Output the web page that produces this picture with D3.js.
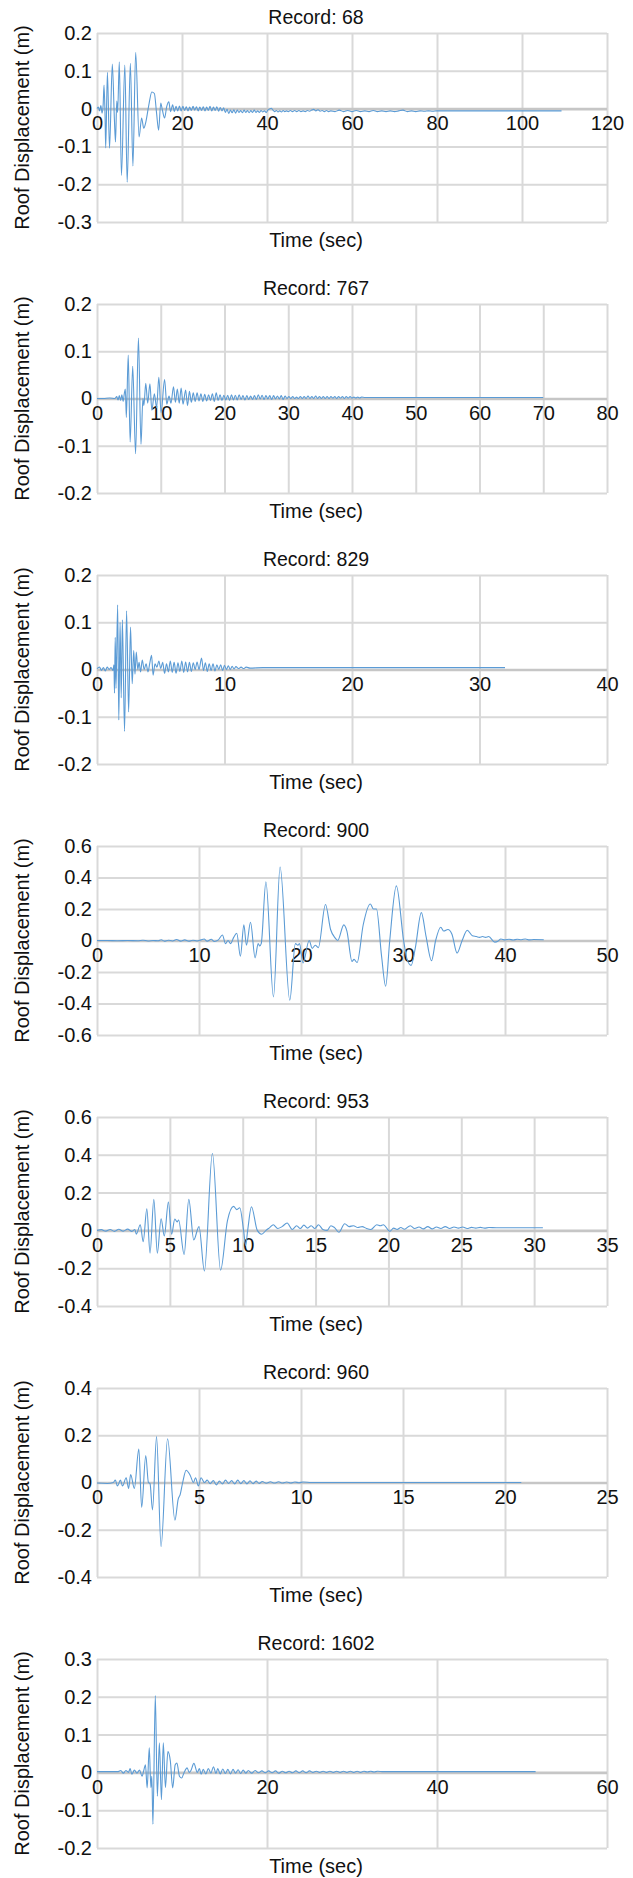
<!DOCTYPE html>
<html>
<head>
<meta charset="utf-8">
<script src="https://cdn.jsdelivr.net/npm/d3@7"></script>
<style>
  html, body { margin: 0; padding: 0; background: #ffffff; }
  svg text { font-family: "Liberation Sans", Arial, Helvetica, sans-serif; fill: #111111; }
</style>
</head>
<body>
<svg id="chart" width="633" height="1878"></svg>
<script>
// Roof displacement time histories, [time (s), displacement (m)]
const rec68 = [
  [0,0],[0.3,0.004],[0.6,-0.006],[0.9,0.008],[1.2,-0.012],[1.45,0.01],[1.65,0.062],[1.9,-0.02],[2.05,-0.104],
  [2.45,0.096],[2.95,-0.105],[3.6,0.118],[4.1,-0.03],[4.35,-0.088],[4.65,0.02],[4.85,-0.01],[5.25,0.124],
  [5.75,-0.177],[6.55,0.115],[7.1,-0.195],[7.85,0.12],[8.45,-0.152],[9.1,0.149],[9.9,-0.075],[10.5,-0.025],
  [11.0,-0.052],[11.5,-0.035],[12.2,0.01],[12.9,0.044],[13.5,0.04],[14.0,-0.01],[14.5,-0.057],[15.0,0.015],
  [15.4,-0.005],[15.9,-0.025],[16.4,0.005],[16.9,0.018],[17.3,-0.008],[17.8,0.01],[18.2,-0.008],[18.6,0.006],
  [19.0,-0.006],[19.4,0.007],[19.8,-0.006],[20.2,0.006],[20.6,-0.005],[21.0,0.005],[21.4,-0.006],[21.8,0.004],
  [22.2,-0.005],[22.6,0.006],[23.0,-0.004],[23.4,0.005],[23.8,-0.006],[24.2,0.004],[24.6,-0.005],[25.0,0.005],
  [25.4,-0.006],[25.8,0.004],[26.2,-0.005],[26.6,0.006],[27.0,-0.006],[27.4,0.004],[27.8,-0.005],[28.2,0.005],
  [28.6,-0.007],[29.0,0.003],[29.4,-0.006],[29.8,0.002],[30.2,-0.01],[30.6,-0.002],[31.0,-0.013],[31.4,-0.004],
  [31.8,-0.011],[32.2,-0.003],[32.6,-0.012],[33.0,-0.004],[33.4,-0.01],[33.8,-0.005],[34.2,-0.011],[34.6,-0.004],
  [35.0,-0.01],[35.4,-0.005],[35.8,-0.011],[36.2,-0.005],[36.6,-0.01],[37.0,-0.004],[37.4,-0.01],[37.8,-0.006],
  [38.2,-0.01],[38.6,-0.005],[39.0,-0.009],[39.4,-0.006],[39.8,-0.01],[40.2,-0.004],[40.6,-0.001],[41.0,0.001],
  [41.4,-0.004],[41.8,-0.008],[42.2,-0.005],[42.6,-0.009],[43.0,-0.006],[43.4,-0.009],[43.8,-0.005],[44.2,-0.008],
  [44.6,-0.006],[45.0,-0.008],[45.5,-0.005],[46.0,-0.008],[46.5,-0.005],[47.0,-0.008],[47.5,-0.005],[48.0,-0.008],
  [48.5,-0.006],[49.0,-0.008],[49.5,-0.005],[50.0,-0.007],[50.5,-0.004],[51.0,-0.002],[51.5,-0.006],[52.0,-0.003],
  [52.5,-0.007],[53.0,-0.005],[53.5,-0.008],[54.0,-0.005],[54.5,-0.008],[55.0,-0.006],[56,-0.008],[57,-0.004],
  [58,-0.008],[59,-0.005],[60,-0.008],[61,-0.005],[62,-0.008],[63,-0.006],[64,-0.008],[65,-0.005],[66,-0.008],
  [67,-0.006],[68,-0.008],[69,-0.006],[70,-0.008],[71,-0.006],[72,-0.004],[73,-0.008],[74,-0.006],[75,-0.008],
  [76,-0.006],[77,-0.007],[78,-0.006],[79,-0.007],[80,-0.006],[109.3,-0.006]
];

const rec767 = [
  [0,0],[1,0],[2,0.001],[2.8,0],[3.1,0.004],[3.3,-0.003],[3.5,0.006],[3.7,-0.004],[3.9,0.008],[4.1,-0.006],
  [4.3,0.012],[4.45,0.02],[4.6,-0.04],[4.9,0.092],[5.2,-0.092],[5.6,0.068],[6.05,-0.117],[6.5,0.128],[6.9,-0.097],
  [7.2,0],[7.35,-0.015],[7.65,0.032],[7.95,-0.01],[8.3,0.031],[8.6,-0.025],[9.0,0.01],[9.35,-0.02],[9.7,0.045],
  [10.05,-0.03],[10.6,0.04],[10.95,-0.012],[11.3,0.005],[11.6,-0.01],[12.0,0.025],[12.3,-0.008],[12.6,0.02],
  [12.9,-0.01],[13.2,0.022],[13.5,-0.012],[13.9,0.018],[14.2,-0.015],[14.5,0.015],[14.8,-0.008],[15.1,0.012],
  [15.4,-0.006],[15.7,0.012],[16.0,-0.005],[16.3,0.01],[16.6,-0.006],[16.9,0.009],[17.2,-0.005],[17.5,0.008],
  [17.8,-0.004],[18.1,0.01],[18.4,-0.006],[18.7,0.012],[19.0,-0.004],[19.3,0.008],[19.6,-0.004],[19.9,0.007],
  [20.2,-0.003],[20.5,0.007],[20.8,-0.004],[21.1,0.008],[21.4,-0.003],[21.7,0.007],[22.0,-0.003],[22.3,0.008],
  [22.6,-0.002],[22.9,0.006],[23.2,-0.003],[23.5,0.006],[23.8,-0.002],[24.1,0.005],[24.4,-0.002],[24.7,0.006],
  [25.0,-0.002],[25.3,0.008],[25.6,-0.001],[25.9,0.007],[26.2,-0.002],[26.5,0.006],[26.8,-0.001],[27.1,0.006],
  [27.4,-0.002],[27.7,0.006],[28.0,-0.001],[28.3,0.005],[28.6,-0.001],[28.9,0.006],[29.2,-0.002],[29.5,0.005],
  [29.8,0],[30.1,0.004],[30.4,0],[30.7,0.004],[31,0],[31.3,0.003],[31.6,0],[31.9,0.004],[32.2,0],[32.5,0.004],
  [32.8,0],[33.1,0.005],[33.4,0],[33.7,0.004],[34,0],[34.3,0.005],[34.6,0],[34.9,0.004],[35.2,0],[35.5,0.004],
  [35.8,0],[36.1,0.004],[36.4,0],[36.7,0.004],[37,0.001],[37.3,0.004],[37.6,0],[37.9,0.004],[38.2,0.001],
  [38.5,0.004],[38.8,0],[39.1,0.004],[39.4,0.001],[39.7,0.004],[40,0.001],[40.3,0.003],[40.6,0.001],[40.9,0.003],
  [41.2,0.001],[41.5,0.003],[42,0.002],[43,0.002],[44,0.002],[70,0.002]
];

const rec829 = [
  [0,0.002],[0.2,0.005],[0.35,-0.002],[0.5,0.004],[0.65,-0.003],[0.8,0.005],[0.95,0],[1.1,0.004],[1.25,-0.002],
  [1.33,0.01],[1.37,-0.05],[1.43,0.068],[1.49,-0.04],[1.62,0.137],[1.71,-0.107],[1.81,0.1],[1.9,-0.06],[1.99,0.105],
  [2.16,-0.131],[2.32,0.124],[2.48,-0.09],[2.63,0.09],[2.76,-0.03],[2.88,0.04],[2.98,-0.01],[3.08,0.037],[3.2,0],
  [3.3,0.015],[3.42,-0.005],[3.55,0.02],[3.7,0],[3.85,0.012],[4.0,-0.005],[4.15,0.015],[4.28,0.03],[4.4,-0.012],
  [4.55,0.012],[4.7,0.005],[4.85,0.018],[5.0,0.002],[5.15,0.015],[5.3,-0.008],[5.45,0.012],[5.6,-0.005],[5.75,0.018],
  [5.9,-0.006],[6.05,0.015],[6.2,-0.008],[6.35,0.014],[6.5,-0.004],[6.65,0.018],[6.8,-0.006],[6.95,0.016],[7.1,-0.005],
  [7.25,0.015],[7.4,-0.004],[7.55,0.014],[7.7,0],[7.85,0.016],[8.0,0],[8.2,0.024],[8.35,-0.002],[8.5,0.014],
  [8.65,-0.004],[8.8,0.012],[8.95,-0.002],[9.1,0.012],[9.25,-0.003],[9.4,0.01],[9.55,0],[9.7,0.01],[9.85,-0.002],
  [10.0,0.009],[10.15,0],[10.3,0.008],[10.45,0],[10.6,0.007],[10.75,0.001],[10.9,0.006],[11.1,0.002],[11.3,0.005],
  [11.5,0.002],[11.7,0.005],[12,0.003],[13,0.004],[32,0.004]
];

const rec900 = [
  [0,0],[1,0],[2,-0.002],[3,0],[4,-0.002],[4.5,0.002],[5,-0.003],[5.5,0],[6,-0.002],[6.3,0.005],[6.6,-0.004],
  [7,0.002],[7.4,-0.003],[7.8,0.006],[8.2,-0.004],[8.6,0.004],[9,-0.004],[9.4,0.002],[9.8,-0.003],[10.2,0.004],
  [10.5,0.01],[10.8,-0.004],[11.2,0.008],[11.5,-0.006],[11.9,0.004],[12.3,0.035],[12.6,-0.02],[12.85,0],[13.1,-0.02],
  [13.4,0.02],[13.7,0.046],[14.06,-0.1],[14.4,0.099],[14.65,-0.03],[15.05,0.116],[15.5,-0.11],[15.8,-0.02],
  [15.95,-0.035],[16.1,-0.02],[16.56,0.373],[17.3,-0.358],[17.95,0.467],[18.9,-0.379],[19.45,-0.02],[19.7,-0.03],
  [19.85,-0.02],[20.2,-0.143],[20.8,0],[21.1,-0.05],[21.4,-0.03],[21.7,-0.045],[22.4,0.229],[22.9,0.07],[23.3,0.02],
  [23.6,0],[24.2,0.099],[24.5,0.06],[25.0,-0.133],[25.2,-0.12],[25.5,-0.14],[26.1,0.1],[26.8,0.232],[27.1,0.2],
  [27.4,0.2],[27.9,-0.1],[28.3,-0.29],[28.7,0],[29.35,0.347],[30.06,0],[30.4,-0.12],[30.8,-0.158],[31.2,-0.05],
  [31.8,0.177],[32.25,0.03],[32.8,-0.128],[33.2,0],[33.7,0.084],[34.0,0.06],[34.4,0.07],[34.8,0.04],[35.3,-0.08],
  [35.8,0],[36.3,0.065],[36.8,0.03],[37.2,0.025],[37.5,0.02],[37.8,0.025],[38.1,0.02],[38.4,0.025],[39.0,-0.01],
  [39.3,-0.005],[39.6,0.01],[40,0.004],[40.4,0.008],[40.8,0.003],[41.2,0.008],[41.6,0.005],[42,0.01],[42.4,0.004],
  [42.8,0.006],[43.8,0.005]
];

const rec953 = [
  [0,0],[0.3,0.004],[0.6,-0.004],[0.9,0.005],[1.2,-0.005],[1.5,0.006],[1.8,-0.004],[2.1,0.007],[2.4,-0.005],
  [2.6,0.005],[2.7,-0.02],[2.97,0.03],[3.17,-0.06],[3.42,0.114],[3.64,-0.12],[3.9,0.164],[4.14,-0.12],[4.4,0.062],
  [4.62,-0.03],[4.9,0.15],[5.12,-0.02],[5.34,0.06],[5.5,0.045],[5.6,0.055],[5.98,-0.127],[6.3,0.164],[6.64,-0.05],
  [7.0,0.02],[7.37,-0.215],[7.92,0.408],[8.48,-0.211],[8.95,0.05],[9.37,0.127],[9.6,0.11],[9.8,0.12],[10.06,0],
  [10.2,-0.08],[10.34,0],[10.6,0.125],[11.0,0],[11.3,-0.02],[11.6,0],[11.85,0.015],[12.1,0.03],[12.4,0.01],
  [12.7,0.02],[13.05,0.039],[13.4,0.005],[13.7,0.025],[13.95,0.01],[14.2,0.028],[14.45,0.012],[14.7,0.025],
  [14.95,0.01],[15.2,0.03],[15.5,0.005],[15.8,0],[16.05,0.025],[16.3,0.015],[16.6,-0.01],[17.0,0.035],[17.3,0.02],
  [17.6,0.025],[17.9,0.015],[18.2,0.02],[18.5,0.01],[18.8,0.005],[19.2,0.03],[19.45,0.025],[19.65,0.03],
  [20.1,-0.005],[20.35,0.012],[20.6,0.005],[20.85,0.015],[21.1,0.006],[21.5,0.025],[21.8,0.01],[22.1,0.018],
  [22.4,0.008],[22.7,0.02],[23.0,0.008],[23.3,0.018],[23.6,0.01],[23.9,0.02],[24.2,0.01],[24.5,0.018],[24.8,0.012],
  [25.1,0.018],[25.4,0.01],[25.7,0.016],[26.0,0.012],[26.3,0.016],[26.6,0.012],[26.9,0.015],[27.4,0.014],[30.6,0.014]
];

const rec960 = [
  [0,-0.002],[0.5,-0.004],[0.8,0],[0.9,0.01],[1.0,-0.015],[1.15,0.01],[1.25,-0.015],[1.43,0.02],[1.55,-0.025],
  [1.65,0.034],[1.83,-0.025],[2.05,0.142],[2.19,-0.105],[2.39,0.114],[2.52,0],[2.6,-0.005],[2.72,-0.116],[2.92,0.194],
  [3.14,-0.271],[3.46,0.185],[3.82,-0.16],[3.98,-0.07],[4.08,-0.05],[4.2,0],[4.37,0.052],[4.57,0.03],[4.73,0],
  [4.83,0.02],[4.97,-0.015],[5.1,0.02],[5.27,0],[5.4,0.01],[5.55,-0.005],[5.7,0.008],[5.85,-0.01],[6.0,0.006],
  [6.15,-0.006],[6.3,0.01],[6.45,-0.004],[6.6,0.008],[6.75,-0.006],[6.9,0.01],[7.05,-0.005],[7.2,0.008],[7.35,-0.006],
  [7.5,0.007],[7.65,-0.005],[7.8,0.006],[7.95,-0.004],[8.1,0.004],[8.3,-0.003],[8.5,0.003],[8.7,-0.002],[8.9,0.003],
  [9.1,-0.002],[9.3,0.002],[9.5,-0.002],[9.7,0.002],[9.9,-0.001],[10.1,0.002],[10.5,0],[20.8,0]
];

const rec1602 = [
  [0,0.002],[2.5,0.002],[2.8,0.005],[3.1,-0.002],[3.4,0.005],[3.7,0],[3.9,0.01],[4.1,-0.005],[4.4,0.006],[4.7,-0.002],
  [5.0,0.006],[5.3,-0.01],[5.5,0.005],[5.7,0.02],[5.9,-0.041],[6.15,0.065],[6.34,-0.04],[6.45,-0.01],[6.58,-0.137],
  [6.86,0.203],[7.1,-0.063],[7.34,0.078],[7.58,-0.072],[7.8,0.078],[8.05,-0.04],[8.34,0.055],[8.63,0.03],[8.9,-0.041],
  [9.2,0.02],[9.4,0.025],[9.7,-0.01],[9.96,-0.015],[10.25,0],[10.6,0.012],[10.85,0],[11.05,0.005],[11.4,0.024],
  [11.8,0],[12.05,0.01],[12.25,-0.005],[12.5,0.008],[12.8,-0.004],[13.1,0.01],[13.4,-0.002],[13.7,0.015],[14.0,-0.003],
  [14.2,0.01],[14.5,-0.004],[14.8,0.009],[15.1,-0.003],[15.4,0.008],[15.7,-0.004],[16.0,0.008],[16.3,-0.002],
  [16.6,0.007],[16.9,-0.003],[17.2,0.006],[17.5,-0.002],[17.8,0.005],[18.2,-0.002],[18.6,0.005],[19.0,-0.001],
  [19.4,0.004],[19.8,-0.001],[20.2,0.004],[20.6,-0.001],[21.0,0.004],[21.4,-0.002],[21.8,0.003],[22.2,-0.001],
  [22.6,0.003],[23.0,-0.001],[23.4,0.004],[23.8,-0.001],[24.2,0.004],[24.6,-0.001],[25.0,0.004],[25.4,0],[25.8,0.003],
  [26.2,0],[26.6,0.003],[27.0,0],[27.4,0.003],[27.8,0],[28.2,0.003],[28.6,0],[29.0,0.003],[29.4,0],[29.8,0.003],
  [30.2,0],[30.6,0.003],[31.0,0],[31.4,0.003],[31.8,0.001],[32.2,0.003],[32.6,0.001],[33.0,0.003],[33.7,0.002],[51.6,0.002]
];

// Record numbers, their series and axis ticks
const recordIds = ["68", "767", "829", "900", "953", "960", "1602"];
const recordSeries = [rec68, rec767, rec829, rec900, rec953, rec960, rec1602];
const xTickValues = [
  [0, 20, 40, 60, 80, 100, 120],
  [0, 10, 20, 30, 40, 50, 60, 70, 80],
  [0, 10, 20, 30, 40],
  [0, 10, 20, 30, 40, 50],
  [0, 5, 10, 15, 20, 25, 30, 35],
  [0, 5, 10, 15, 20, 25],
  [0, 20, 40, 60]
];
const yTickValues = [
  [0.2, 0.1, 0, -0.1, -0.2, -0.3],
  [0.2, 0.1, 0, -0.1, -0.2],
  [0.2, 0.1, 0, -0.1, -0.2],
  [0.6, 0.4, 0.2, 0, -0.2, -0.4, -0.6],
  [0.6, 0.4, 0.2, 0, -0.2, -0.4],
  [0.4, 0.2, 0, -0.2, -0.4],
  [0.3, 0.2, 0.1, 0, -0.1, -0.2]
];

// Layout
const plotLeft = 97, plotRight = 607, firstTop = 33, panelPitch = 271, plotHeight = 189;
const centerX = 316;
const tickFont = 20, labelFont = 20, titleFont = 19.5;
const fmt = d => String(+d.toFixed(3));

const svg = d3.select("#chart");

recordIds.forEach((id, i) => {
  const top = firstTop + i * panelPitch;
  const bottom = top + plotHeight;
  const x = d3.scaleLinear().domain(d3.extent(xTickValues[i])).range([plotLeft, plotRight]);
  const y = d3.scaleLinear().domain(d3.extent(yTickValues[i])).range([bottom, top]);
  const g = svg.append("g").attr("class", "panel");

  // vertical gridlines
  g.append("g").attr("transform", `translate(0,${bottom})`)
    .call(d3.axisBottom(x).tickValues(xTickValues[i]).tickSize(-plotHeight).tickFormat(""))
    .call(a => a.select(".domain").remove())
    .call(a => a.selectAll("line").attr("stroke", "#d9d9d9").attr("stroke-width", 2));

  // horizontal gridlines
  g.append("g").attr("transform", `translate(${plotLeft},0)`)
    .call(d3.axisLeft(y).tickValues(yTickValues[i]).tickSize(-(plotRight - plotLeft)).tickFormat(""))
    .call(a => a.select(".domain").remove())
    .call(a => a.selectAll("line")
      .attr("stroke", d => d === 0 ? "#c6c6c6" : "#d9d9d9")
      .attr("stroke-width", d => d === 0 ? 2.6 : 2));

  // y tick labels
  g.append("g").attr("transform", `translate(${plotLeft},0)`)
    .call(d3.axisLeft(y).tickValues(yTickValues[i]).tickSize(0).tickPadding(5).tickFormat(fmt))
    .call(a => a.select(".domain").remove())
    .call(a => a.selectAll("text").attr("font-size", tickFont).attr("fill", "#111111")
      .attr("font-family", "Liberation Sans, Arial, sans-serif"));

  // x tick labels, placed under the zero line
  g.append("g").attr("transform", `translate(0,${y(0)})`)
    .call(d3.axisBottom(x).tickValues(xTickValues[i]).tickSize(0).tickPadding(7).tickFormat(fmt))
    .call(a => a.select(".domain").remove())
    .call(a => a.selectAll("text").attr("font-size", tickFont).attr("fill", "#111111")
      .attr("font-family", "Liberation Sans, Arial, sans-serif"));

  // displacement trace
  const line = d3.line().x(d => x(d[0])).y(d => y(d[1])).curve(d3.curveMonotoneX);
  g.append("path").datum(recordSeries[i])
    .attr("d", line)
    .attr("fill", "none")
    .attr("stroke", "#5b9bd5")
    .attr("stroke-width", 1.1)
    .attr("stroke-linejoin", "round");

  // titles
  g.append("text").attr("x", centerX).attr("y", top - 9)
    .attr("text-anchor", "middle").attr("font-size", titleFont)
    .text(`Record: ${id}`);
  g.append("text").attr("x", centerX).attr("y", bottom + 25)
    .attr("text-anchor", "middle").attr("font-size", labelFont)
    .text("Time (sec)");
  g.append("text")
    .attr("transform", `translate(22,${(top + bottom) / 2}) rotate(-90)`)
    .attr("text-anchor", "middle").attr("dominant-baseline", "central")
    .attr("font-size", labelFont)
    .text("Roof Displacement (m)");
});
</script>
</body>
</html>
